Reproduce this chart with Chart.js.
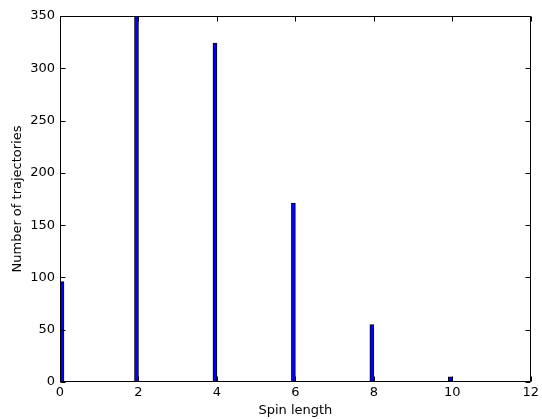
<!DOCTYPE html>
<html>
<head>
<meta charset="utf-8">
<script src="https://cdn.jsdelivr.net/npm/chart.js@4"></script>
<style>
  html, body { margin: 0; padding: 0; background: #ffffff; }
  #plot1 { display: block; }
</style>
</head>
<body>
<canvas id="plot1" width="542" height="419"></canvas>
<script>
// histogram bins (left edge of each filled bin) and counts
var spin_length = [0, 2, 4, 6, 8, 10];
var bin_start = [0, 1.9, 3.9, 5.9, 7.9, 9.9];
var bin_width = 0.1;
var trajectories = [96, 350, 324, 171, 55, 5];

var x_ticks = [0, 2, 4, 6, 8, 10, 12];
var y_ticks = [0, 50, 100, 150, 200, 250, 300, 350];

var pontos = [];
for (var i = 0; i < spin_length.length; i++) {
    pontos.push({ x: bin_start[i] + bin_width / 2, y: trajectories[i] });
}

// frame + inward ticks, matplotlib classic look
var moldura = {
    id: 'moldura',
    afterDraw: function (chart) {
        var ctx = chart.ctx;
        var a = chart.chartArea;
        var sx = chart.scales.x, sy = chart.scales.y;
        var L = Math.round(a.left) + 0.5, R = Math.round(a.right) - 0.5;
        var T = Math.round(a.top) + 0.5, B = Math.round(a.bottom) - 0.5;
        ctx.save();
        ctx.strokeStyle = '#000000';
        ctx.lineWidth = 1;
        ctx.beginPath();
        ctx.rect(L, T, R - L, B - T);
        x_ticks.forEach(function (v) {
            var px = Math.round(sx.getPixelForValue(v)) + 0.5;
            ctx.moveTo(px, B); ctx.lineTo(px, B - 5);
            ctx.moveTo(px, T); ctx.lineTo(px, T + 5);
        });
        y_ticks.forEach(function (v) {
            var py = Math.round(sy.getPixelForValue(v)) + 0.5;
            ctx.moveTo(L, py); ctx.lineTo(L + 5, py);
            ctx.moveTo(R, py); ctx.lineTo(R - 5, py);
        });
        ctx.stroke();
        ctx.restore();
    }
};

var fonte = { family: 'DejaVu Sans', size: 13 };

var dados_hist = {
    type: 'bar',
    data: {
        datasets: [{
            label: 'trajectories',
            data: pontos,
            backgroundColor: '#0000ff',
            borderColor: '#000000',
            borderWidth: 1,
            barThickness: 4
        }]
    },
    options: {
        responsive: false,
        animation: false,
        layout: { padding: { top: 16, right: 10, left: 0, bottom: 0 } },
        plugins: { legend: { display: false }, tooltip: { enabled: false } },
        scales: {
            x: {
                type: 'linear',
                min: 0,
                max: 12,
                offset: false,
                grid: { display: false, drawTicks: false, offset: false },
                border: { display: false },
                ticks: { stepSize: 2, color: '#000000', font: fonte, padding: 3, maxRotation: 0 },
                title: { display: true, text: 'Spin length', color: '#000000', font: fonte, padding: { top: 0, bottom: 1 } },
                afterFit: function (s) { s.height = 37; }
            },
            y: {
                min: 0,
                max: 350,
                grid: { display: false, drawTicks: false },
                border: { display: false },
                ticks: { stepSize: 50, color: '#000000', font: fonte, padding: 5 },
                title: { display: true, text: 'Number of trajectories', color: '#000000', font: fonte, padding: { top: 10, bottom: 0 } },
                afterFit: function (s) { s.width = 60; }
            }
        }
    },
    plugins: [moldura]
};

var grafico_hist = new Chart(document.getElementById('plot1'), dados_hist);
</script>
</body>
</html>
